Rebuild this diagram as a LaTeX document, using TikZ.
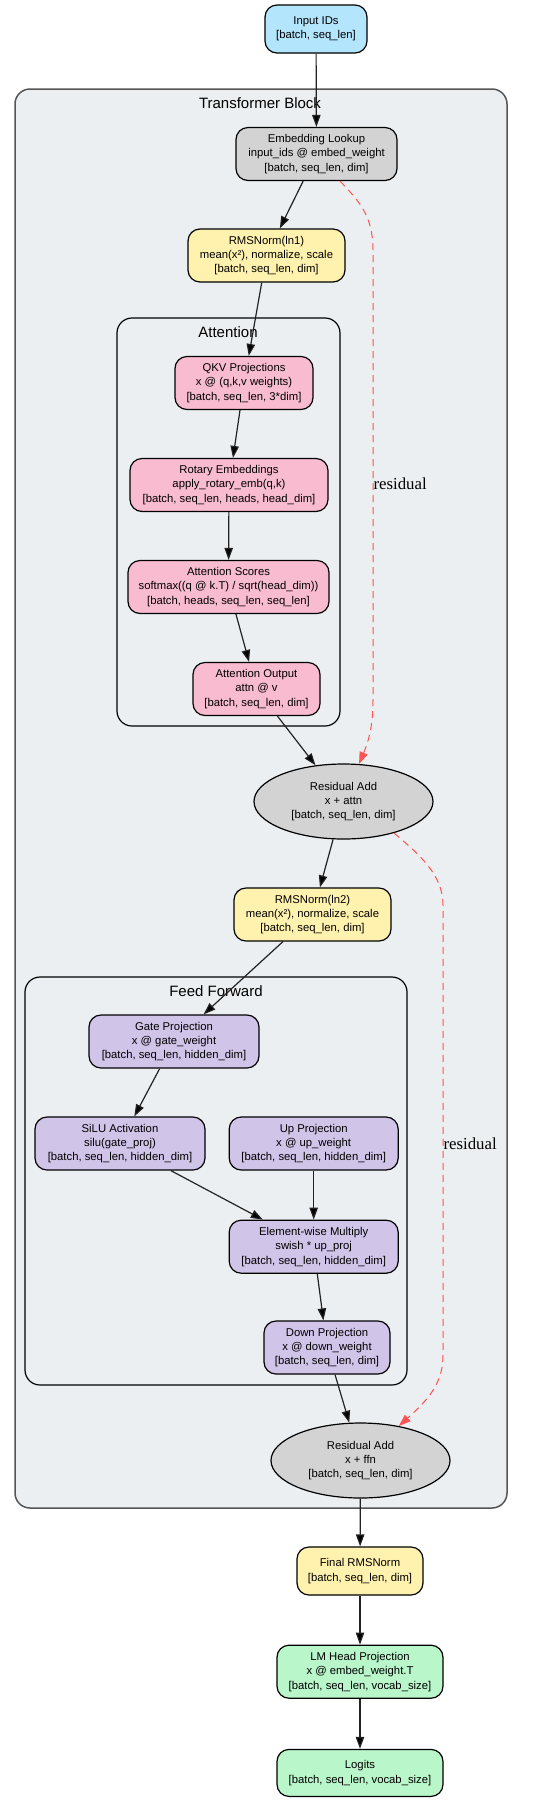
\documentclass[tikz,border=0pt]{standalone}
\usepackage{fontspec}
\setmainfont{Liberation Sans}
\newfontfamily\labelserif{Liberation Serif}
\usetikzlibrary{positioning,shapes.geometric,arrows.meta}

\definecolor{inblue}{HTML}{B3E5FC}
\definecolor{embgray}{HTML}{D3D3D3}
\definecolor{normyellow}{HTML}{FFF2AE}
\definecolor{attnpink}{HTML}{F8BBD0}
\definecolor{ffnpurple}{HTML}{D1C4E9}
\definecolor{outgreen}{HTML}{B9F6CA}
\definecolor{clusterbg}{HTML}{ECEFF1}
\definecolor{blockedge}{HTML}{555555}
\definecolor{edgecol}{HTML}{222222}
\definecolor{resred}{HTML}{FF5252}

\begin{document}
\begin{tikzpicture}[x=1pt, y=-1pt, font=\fontsize{11.3}{14.4}\selectfont,
    box/.style = {draw, rounded corners=12pt, line width=1.2pt, align=center, inner sep=0pt, minimum height=53pt},
    addnode/.style = {ellipse, draw, fill=embgray, line width=1.2pt, align=center, inner sep=0pt, minimum width=179pt, minimum height=75pt},
    cluster/.style = {draw, rounded corners=15pt, fill=clusterbg, line width=1.2pt},
    title/.style = {font=\fontsize{15}{18}\selectfont},
    flow/.style = {-{Triangle[length=12pt,width=8.4pt]}, draw=edgecol, line width=1.2pt},
    resid/.style = {-{Triangle[length=12pt,width=8.4pt]}, draw=resred, dash pattern=on 7pt off 5pt, line width=1pt},
    reslabel/.style = {right, inner sep=0pt, font=\labelserif\fontsize{16.8}{20}\selectfont}]
    \useasboundingbox (0,0) rectangle (551,1800);

    % clusters
    \draw[cluster, draw=blockedge, line width=1.5pt] (15,89) rectangle (507,1508);
    \node[title] (blocktitle) at (260,103) {Transformer Block};
    \draw[cluster] (117,318) rectangle (340,726);
    \node[title] (attntitle) at (228,332) {Attention};
    \draw[cluster] (25,977) rectangle (407,1385);
    \node[title] (ffntitle) at (216,991) {Feed Forward};

    \node[box, fill=inblue, minimum width=102pt, minimum height=48pt] (ids) at (316,29) {Input IDs\\{[}batch, seq\_len{]}};
    \node[box, fill=embgray, minimum width=161pt] (embed) at (316.5,154) {Embedding Lookup\\input\_ids @ embed\_weight\\{[}batch, seq\_len, dim{]}};
    \node[box, fill=normyellow, minimum width=157pt] (ln1) at (266.5,255.5) {RMSNorm(ln1)\\mean(x²), normalize, scale\\{[}batch, seq\_len, dim{]}};

    % attention
    \node[box, fill=attnpink, minimum width=138pt] (qkv) at (244,383) {QKV Projections\\x @ (q,k,v weights)\\{[}batch, seq\_len, 3*dim{]}};
    \node[box, fill=attnpink, minimum width=198pt] (rope) at (229,485) {Rotary Embeddings\\apply\_rotary\_emb(q,k)\\{[}batch, seq\_len, heads, head\_dim{]}};
    \node[box, fill=attnpink, minimum width=201pt] (scores) at (228.5,587) {Attention Scores\\softmax((q @ k.T) / sqrt(head\_dim))\\{[}batch, heads, seq\_len, seq\_len{]}};
    \node[box, fill=attnpink, minimum width=127pt] (attnout) at (256.5,689) {Attention Output\\attn @ v\\{[}batch, seq\_len, dim{]}};

    \node[addnode] (res1) at (343.5,801.5) {Residual Add\\x + attn\\{[}batch, seq\_len, dim{]}};
    \node[box, fill=normyellow, minimum width=157pt] (ln2) at (312.5,914.5) {RMSNorm(ln2)\\mean(x²), normalize, scale\\{[}batch, seq\_len, dim{]}};

    % feed forward
    \node[box, fill=ffnpurple, minimum width=170pt] (gate) at (174,1041.5) {Gate Projection\\x @ gate\_weight\\{[}batch, seq\_len, hidden\_dim{]}};
    \node[box, fill=ffnpurple, minimum width=170pt] (silu) at (120,1143.5) {SiLU Activation\\silu(gate\_proj)\\{[}batch, seq\_len, hidden\_dim{]}};
    \node[box, fill=ffnpurple, minimum width=169pt] (up) [right=23pt of silu] {Up Projection\\x @ up\_weight\\{[}batch, seq\_len, hidden\_dim{]}};
    \node[box, fill=ffnpurple, minimum width=169pt] (mult) [below=49pt of up] {Element-wise Multiply\\swish * up\_proj\\{[}batch, seq\_len, hidden\_dim{]}};
    \node[box, fill=ffnpurple, minimum width=126pt] (down) at (327,1347.5) {Down Projection\\x @ down\_weight\\{[}batch, seq\_len, dim{]}};

    \node[addnode] (res2) at (360.5,1460.5) {Residual Add\\x + ffn\\{[}batch, seq\_len, dim{]}};

    \node[box, fill=normyellow, minimum width=126pt, minimum height=48pt] (final) at (360,1571) {Final RMSNorm\\{[}batch, seq\_len, dim{]}};
    \node[box, fill=outgreen, minimum width=166pt] (lmhead) [below=49pt of final] {LM Head Projection\\x @ embed\_weight.T\\{[}batch, seq\_len, vocab\_size{]}};
    \node[box, fill=outgreen, minimum width=166pt, minimum height=47pt] (logits) [below=50pt of lmhead] {Logits\\{[}batch, seq\_len, vocab\_size{]}};

    \path[flow] (ids) edge (embed);
    \path[flow] (embed) edge (ln1);
    \path[flow] (ln1) edge (qkv);
    \path[flow] (qkv) edge (rope);
    \path[flow] (rope) edge (scores);
    \path[flow] (scores) edge (attnout);
    \path[flow] (attnout) edge (res1);
    \path[flow] (res1) edge (ln2);
    \path[flow] (ln2) edge (gate);
    \path[flow] (gate) edge (silu);
    \path[flow] (silu) edge (mult);
    \path[flow] (up) edge (mult);
    \path[flow] (mult) edge (down);
    \path[flow] (down) edge (res2);
    \path[flow] (res2) edge (final);
    \path[flow] (final) edge (lmhead);
    \path[flow] (lmhead) edge (logits);

    % residual connections
    \draw[resid] ([xshift=23.5pt]embed.south) .. controls (358,200) and (373,215) .. (373,250)
        -- node[reslabel, pos=0.52] (skip1) {residual} (373,700) .. controls (373,725) and (369,740) .. (res1);
    \draw[resid] (res1.-32) .. controls (420,855) and (443,875) .. (443,905)
        -- node[reslabel, pos=0.531] (skip2) {residual} (443,1355) .. controls (443,1382) and (430,1398) .. (res2);
  \end{tikzpicture}
\end{document}
